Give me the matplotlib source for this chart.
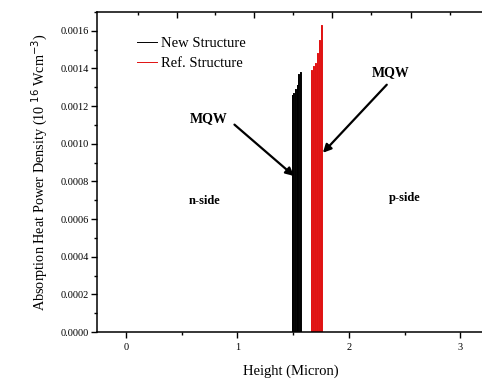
import numpy as np
import matplotlib.pyplot as plt
from matplotlib.ticker import MultipleLocator

plt.rcParams['font.family'] = ['Liberation Serif', 'DejaVu Serif']

# quantum well centres (micron) and peak heat power density in each well
new_pos = [1.490, 1.505, 1.520, 1.535, 1.550, 1.565]
new_val = [0.00126, 0.00127, 0.00129, 0.00131, 0.00137, 0.00138]
ref_pos = [1.665, 1.683, 1.700, 1.718, 1.735, 1.752]
ref_val = [0.00139, 0.00141, 0.00143, 0.00148, 0.00155, 0.00163]
well_w = 0.007

x_ticks = [0, 1, 2, 3]
y_ticks = np.arange(0, 0.00161, 0.0002)


def well_profile(pos, val, w):
    # rectangular profile: zero in barriers, val inside each well
    xs, ys = [], []
    for p, v in zip(pos, val):
        xs += [p - w / 2, p - w / 2, p + w / 2, p + w / 2]
        ys += [0, v, v, 0]
    return np.array(xs), np.array(ys)


fig = plt.figure(figsize=(4.82, 3.83), dpi=100)
ax = fig.add_axes([0.201, 0.133, 0.805, 0.836])

xn, yn = well_profile(new_pos, new_val, well_w)
xr, yr = well_profile(ref_pos, ref_val, well_w)

ax.fill(xn, yn, color='#707070', lw=0)
ax.plot(xn, yn, color='black', lw=0.7, label='New Structure')
ax.fill(xr, yr, color='#f29090', lw=0)
ax.plot(xr, yr, color='#e01010', lw=0.7, label='Ref. Structure')

ax.set_xlim(-0.26, 3.22)
ax.set_ylim(0, 0.0017)
ax.set_xticks(x_ticks)
ax.xaxis.set_minor_locator(MultipleLocator(0.5))
ax.set_yticks(y_ticks)
ax.set_yticklabels([f'{v:.4f}' for v in y_ticks])
ax.yaxis.set_minor_locator(MultipleLocator(0.0001))
ax.tick_params(axis='both', which='major', direction='out', length=4, width=1, labelsize=7.5, pad=2)
ax.tick_params(axis='both', which='minor', direction='out', length=2.5, width=1)
ax.tick_params(axis='x', pad=4)
for s in ax.spines.values():
    s.set_linewidth(1.1)
ax.spines['right'].set_visible(False)

# top axis ticks point inward, no labels
top = ax.twiny()
top.set_xlim(ax.get_xlim())
top.set_xticks([0.455, 1.152, 1.848, 2.554])
top.set_xticks([0.107, 0.803, 1.500, 2.201, 2.905], minor=True)
top.set_xticklabels([])
top.tick_params(axis='x', which='major', direction='in', length=4, width=1)
top.tick_params(axis='x', which='minor', direction='in', length=2.5, width=1)
for s in top.spines.values():
    s.set_visible(False)

ax.set_xlabel('Height (Micron)', fontsize=10.5, labelpad=9)
ax.set_ylabel('Absorption Heat Power Density (10 $^{16}$ Wcm$^{-3}$)', fontsize=10.3, labelpad=7)

ax.legend(loc='upper left', bbox_to_anchor=(0.08, 0.95), frameon=False, fontsize=10.5,
          handlelength=1.4, handletextpad=0.3, labelspacing=0.45, borderaxespad=0.2)

arrow = dict(arrowstyle='-|>', color='black', lw=1.6, mutation_scale=12)
ax.annotate('', xy=(1.527, 0.000819), xytext=(0.955, 0.001111), arrowprops=arrow)
ax.annotate('', xy=(1.75, 0.000941), xytext=(2.357, 0.001324), arrowprops=arrow)
ax.text(0.741, 0.001132, 'MQW', fontsize=10, fontweight='bold', ha='center', va='center')
ax.text(2.375, 0.001377, 'MQW', fontsize=10, fontweight='bold', ha='center', va='center')
ax.text(0.705, 0.000696, 'n-side', fontsize=9, fontweight='bold', ha='center', va='center')
ax.text(2.5, 0.000712, 'p-side', fontsize=9, fontweight='bold', ha='center', va='center')

fig.savefig('out.png', dpi=100)
